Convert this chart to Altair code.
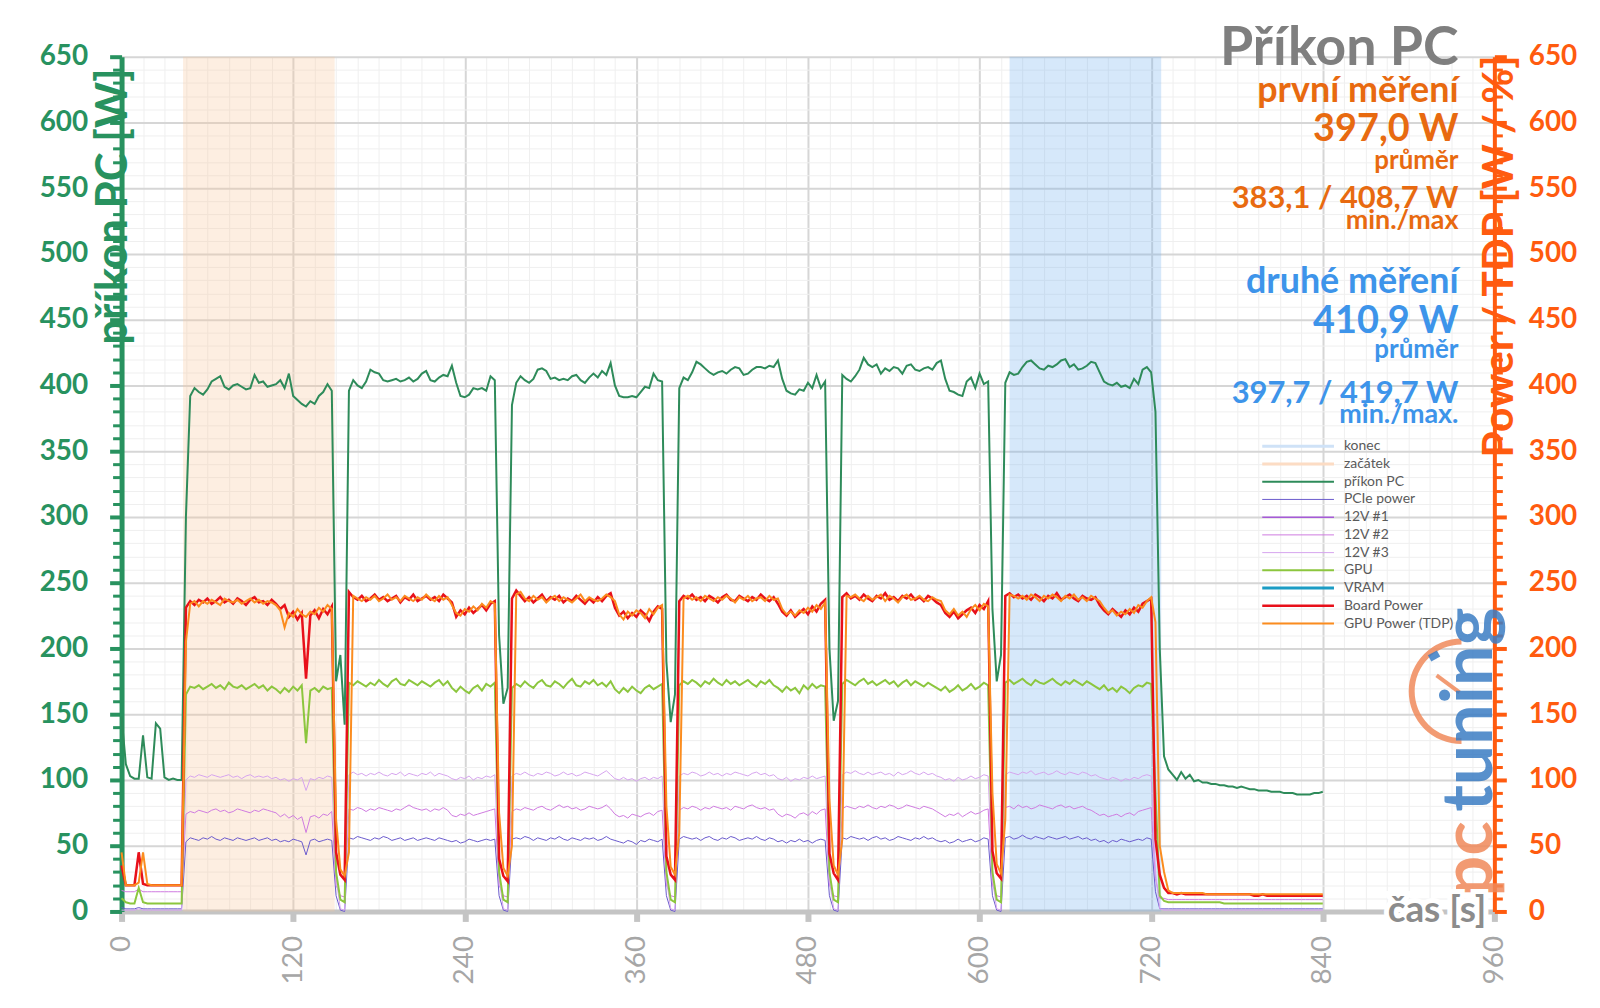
import altair as alt
import pandas as pd

# ---------------- data ----------------
T = list(range(0, 841, 3))  # sampling grid [s]

pc = [
    148, 112, 103, 101, 101, 134, 102, 101, 143, 139, 102, 100, 101, 100, 100,
    300, 392, 398, 395, 393, 397, 403, 405, 407, 399, 397, 400, 401, 399, 397, 398, 408, 402, 403, 399,
    400, 401, 404, 398, 409, 392, 389, 386, 384, 388, 386, 392, 395, 401, 396,
    175, 195, 142,
    396, 404, 400, 398, 403, 412, 410, 409, 404, 403, 404, 405, 403, 404, 406, 403, 405, 409, 411, 404,
    403, 406, 408, 407, 415, 402, 392, 391, 393, 398, 397, 398, 396, 407, 404,
    210, 158, 170,
    385, 402, 407, 404, 402, 405, 412, 413, 411, 405, 406, 404, 405, 404, 407, 408, 404, 402, 406, 409,
    406, 411, 408, 417, 400, 392, 391, 391, 392, 391, 395, 399, 398, 409, 404, 403,
    190, 144, 165,
    398, 406, 404, 410, 418, 416, 413, 410, 408, 410, 411, 409, 412, 414, 413, 408, 409, 412, 414, 414,
    413, 415, 414, 419, 405, 396, 394, 393, 397, 396, 402, 398, 408, 398, 403,
    200, 145, 160,
    408, 405, 403, 407, 412, 421, 416, 414, 416, 409, 413, 411, 414, 413, 409, 415, 416, 412, 411, 413,
    414, 412, 417, 419, 405, 396, 395, 393, 392, 403, 406, 398, 409, 401, 403,
    230, 175, 195,
    402, 410, 408, 409, 414, 418, 419, 416, 413, 412, 415, 414, 416, 419, 420, 414, 416, 412, 413, 415,
    418, 417, 410, 403, 401, 400, 402, 399, 400, 398, 405, 401, 412, 414, 410,
    380, 200, 118, 108, 104, 100, 106, 101, 104, 99,
    100, 98, 98, 97, 97, 96, 96, 95, 95, 94,
    95, 94, 93, 93, 92, 92, 92, 91, 91, 91,
    90, 90, 90, 89, 89, 89, 89, 90, 90, 91,
]

board = [
    35, 20, 20, 20, 45, 21, 20, 20, 20, 20, 20, 20, 20, 20, 20,
    231, 236, 233, 237, 235, 238, 234, 236, 239, 235, 237, 234, 238, 236, 233, 237, 239, 235, 236, 233,
    237, 234, 230, 233, 224, 228, 222, 227, 177, 225, 229, 223, 230, 226, 232,
    45, 28, 24,
    243, 239, 237, 240, 236, 238, 241, 237, 239, 236, 238, 240, 235, 239, 237, 241, 236, 238, 240, 237,
    239, 236, 241, 238, 235, 224, 229, 226, 231, 227, 230, 233, 229, 234, 236,
    40, 27, 23,
    238, 244, 240, 236, 239, 235, 238, 241, 236, 239, 237, 240, 235, 238, 236, 240, 237, 234, 238, 235,
    239, 236, 240, 242, 231, 225, 228, 223, 227, 224, 229, 226, 221, 228, 232, 230,
    42, 28, 24,
    236, 240, 238, 241, 237, 239, 236, 240, 238, 235, 239, 241, 237, 236, 240, 238, 236, 239, 237, 241,
    238, 236, 239, 234, 228, 225, 229, 224, 227, 230, 226, 232, 228, 234, 237,
    44, 29, 24,
    239, 242, 238, 240, 237, 241, 238, 236, 240, 238, 242, 237, 239, 236, 240, 238, 241, 237, 239, 236,
    240, 238, 235, 233, 227, 224, 228, 223, 226, 229, 231, 227, 233, 230, 236,
    46, 29, 25,
    240, 242, 239, 241, 238, 240, 237, 241, 239, 236, 240, 238, 242, 237, 239, 241, 238, 236, 240, 238,
    237, 239, 233, 229, 226, 230, 227, 224, 229, 226, 231, 228, 234, 236, 238,
    55, 28, 18, 14, 14, 13, 14, 13, 13, 13,
    13, 13, 13, 13, 13, 13, 13, 13, 13, 13,
    13, 13, 13, 12, 12, 13, 12, 12, 12, 12,
    12, 12, 12, 12, 12, 12, 12, 12, 12, 12,
]

tdp = [
    45, 20, 20, 20, 22, 45, 21, 20, 20, 20, 20, 20, 20, 20, 20,
    205, 234, 236, 232, 236, 234, 237, 235, 233, 238, 236, 235, 237, 234, 236, 238, 235, 237, 234, 236,
    235, 233, 229, 216, 227, 224, 230, 226, 224, 228, 226, 231, 228, 233, 230,
    70, 32, 27,
    45, 240, 238, 236, 239, 237, 240, 236, 238, 241, 237, 239, 236, 240, 238, 236, 239, 237, 241, 238,
    236, 240, 237, 239, 233, 227, 225, 230, 228, 232, 229, 234, 231, 236, 234,
    75, 33, 27,
    50, 241, 243, 238, 236, 240, 237, 239, 235, 238, 240, 236, 239, 237, 235, 238, 241, 236, 239, 237,
    236, 238, 241, 239, 236, 226, 222, 228, 225, 229, 227, 223, 230, 226, 231, 233,
    80, 34, 28,
    60, 238, 240, 237, 239, 236, 240, 238, 236, 239, 237, 240, 238, 235, 239, 237, 240, 236, 238, 239,
    236, 240, 237, 238, 230, 226, 228, 225, 229, 227, 231, 228, 233, 230, 235,
    85, 35, 28,
    55, 240, 239, 241, 238, 236, 240, 237, 239, 241, 236, 240, 238, 235, 239, 241, 237, 238, 240, 237,
    236, 239, 237, 236, 229, 226, 230, 225, 228, 224, 230, 233, 229, 234, 232,
    90, 36, 29,
    70, 241, 240, 238, 240, 237, 241, 239, 236, 240, 238, 241, 239, 236, 240, 238, 241, 237, 239, 236,
    240, 238, 236, 231, 227, 229, 225, 228, 226, 230, 227, 233, 231, 236, 239,
    220, 50, 30, 16, 14, 14, 14, 14, 14, 14,
    14, 14, 13, 13, 13, 13, 13, 13, 13, 13,
    13, 13, 13, 13, 13, 13, 13, 13, 13, 13,
    13, 13, 13, 13, 13, 13, 13, 13, 13, 13,
]

gpu = [
    10, 7, 6, 6, 18, 7, 6, 6, 6, 6, 6, 6, 6, 6, 6,
    165, 171, 170, 172, 169, 171, 173, 170, 172, 169, 174, 171, 170, 172, 169, 171, 173, 170, 172, 168,
    171, 169, 166, 170, 167, 171, 168, 172, 128, 168, 170, 167, 171, 169, 170,
    30, 9, 7,
    174, 172, 175, 173, 171, 174, 172, 176, 173, 171, 175, 177, 173, 172, 176, 174, 172, 175, 173, 171,
    174, 176, 172, 175, 170, 167, 171, 168, 166, 170, 172, 168, 173, 171, 174,
    30, 9, 7,
    170, 173, 171, 175, 172, 170, 174, 176, 172, 171, 175, 173, 170, 174, 177, 172, 171, 175, 173, 176,
    172, 174, 171, 175, 169, 166, 170, 167, 171, 168, 166, 170, 172, 169, 171, 173,
    30, 9, 7,
    172, 175, 173, 176, 174, 171, 175, 173, 177, 174, 172, 176, 173, 175, 172, 174, 176, 173, 171, 175,
    173, 176, 172, 170, 167, 171, 168, 170, 166, 172, 169, 173, 170, 172, 171,
    30, 9, 7,
    173, 176, 174, 172, 175, 177, 173, 175, 172, 174, 176, 173, 175, 171, 174, 176, 172, 175, 173, 171,
    174, 172, 170, 168, 171, 167, 169, 172, 168, 170, 173, 169, 171, 174, 172,
    30, 9, 7,
    174, 176, 173, 175, 177, 174, 172, 176, 174, 173, 175, 177, 174, 172, 175, 173, 176, 174, 172, 175,
    173, 171, 169, 172, 168, 170, 167, 171, 169, 166, 170, 172, 171, 174, 173,
    90, 12, 8, 7, 7, 7, 7, 7, 7, 7,
    7, 7, 7, 7, 7, 7, 6, 6, 6, 6,
    6, 6, 6, 6, 6, 6, 6, 6, 6, 6,
    6, 6, 6, 6, 6, 6, 6, 6, 6, 6,
]

v12_3 = [
    1, 1, 1, 1, 2, 1, 1, 1, 1, 1, 1, 1, 1, 1, 1,
    100, 103, 102, 104, 103, 102, 104, 103, 102, 103, 104, 102, 103, 101, 103, 104, 102, 103, 102, 103,
    101, 102, 100, 101, 99, 101, 100, 102, 92, 101, 100, 102, 101, 103, 102,
    25, 2, 1,
    104, 106, 104, 105, 103, 105, 104, 106, 104, 103, 105, 104, 106, 103, 105, 104, 103, 105, 104, 106,
    103, 105, 104, 103, 101, 100, 102, 101, 103, 100, 102, 101, 103, 102, 104,
    25, 2, 1,
    103, 105, 104, 106, 104, 103, 105, 104, 106, 105, 103, 104, 106, 104, 105, 103, 104, 106, 105, 104,
    103, 105, 107, 104, 101, 100, 102, 100, 101, 99, 101, 102, 100, 102, 101, 103,
    25, 2, 1,
    103, 105, 104, 106, 105, 103, 104, 106, 104, 105, 103, 105, 104, 106, 105, 104, 103, 105, 106, 104,
    105, 103, 104, 101, 100, 102, 99, 101, 100, 102, 101, 103, 101, 102, 103,
    25, 2, 1,
    104, 106, 105, 107, 105, 104, 106, 104, 105, 106, 104, 105, 103, 106, 104, 105, 107, 105, 104, 106,
    104, 105, 103, 102, 100, 101, 99, 102, 100, 101, 103, 101, 102, 104, 103,
    25, 2, 1,
    104, 106, 105, 104, 106, 105, 107, 104, 105, 106, 104, 105, 107, 105, 104, 106, 105, 104, 106, 105,
    103, 104, 102, 101, 100, 102, 101, 99, 101, 100, 102, 101, 103, 104, 103,
    30, 2, 1, 1, 1, 1, 1, 1, 1, 1,
    1, 1, 1, 1, 1, 1, 1, 1, 1, 1,
    1, 1, 1, 1, 1, 1, 1, 1, 1, 1,
    1, 1, 1, 1, 1, 1, 1, 1, 1, 1,
]

v12_2 = [
    16, 15, 15, 15, 17, 15, 15, 15, 15, 15, 15, 15, 15, 15, 15,
    74, 76, 75, 77, 76, 75, 77, 78, 76, 77, 75, 76, 78, 77, 76, 75, 77, 76, 78, 77,
    76, 75, 72, 74, 71, 73, 70, 72, 60, 72, 73, 71, 74, 73, 76,
    20, 12, 11,
    78, 77, 79, 78, 76, 78, 77, 79, 78, 77, 76, 78, 77, 79, 81, 79, 78, 77, 78, 76,
    78, 77, 79, 77, 73, 72, 74, 73, 75, 73, 74, 75, 76, 77, 78,
    20, 12, 11,
    76, 78, 77, 79, 78, 77, 79, 80, 78, 77, 79, 81, 79, 80, 78, 79, 77, 78, 80, 79,
    78, 79, 81, 78, 74, 72, 73, 71, 74, 73, 72, 74, 75, 73, 76, 77,
    20, 12, 11,
    77, 79, 78, 80, 79, 77, 79, 78, 80, 79, 78, 79, 77, 80, 79, 78, 80, 81, 79, 78,
    79, 77, 78, 74, 72, 74, 73, 71, 74, 75, 73, 76, 74, 77, 78,
    20, 12, 11,
    78, 80, 79, 78, 80, 79, 81, 79, 78, 80, 79, 81, 80, 78, 79, 81, 80, 79, 78, 80,
    79, 78, 76, 74, 72, 74, 73, 75, 72, 74, 76, 74, 75, 77, 78,
    20, 12, 11,
    79, 80, 78, 81, 79, 80, 78, 79, 81, 80, 79, 78, 80, 81, 79, 80, 78, 79, 80, 78,
    77, 75, 73, 74, 72, 73, 74, 72, 74, 75, 73, 76, 77, 78, 79,
    25, 10, 10, 9, 9, 9, 9, 9, 9, 9,
    9, 9, 9, 9, 9, 9, 9, 9, 9, 9,
    9, 9, 9, 9, 9, 9, 9, 9, 9, 9,
    9, 9, 9, 9, 9, 9, 9, 9, 9, 9,
]

pcie = [
    3, 2, 2, 2, 3, 2, 2, 2, 2, 2, 2, 2, 2, 2, 2,
    53, 56, 55, 54, 56, 55, 57, 55, 54, 56, 55, 54, 56, 55, 54, 55, 56, 54, 55, 56,
    54, 55, 53, 54, 53, 55, 54, 53, 43, 54, 55, 53, 54, 55, 54,
    12, 1, 0,
    56, 55, 57, 56, 55, 54, 56, 55, 57, 56, 54, 55, 56, 54, 55, 56, 54, 55, 56, 55,
    54, 56, 55, 54, 53, 54, 52, 53, 55, 54, 53, 54, 55, 54, 55,
    12, 1, 0,
    55, 56, 55, 57, 56, 54, 56, 55, 54, 56, 55, 57, 55, 54, 56, 55, 54, 56, 55, 56,
    54, 55, 57, 55, 54, 53, 52, 54, 53, 51, 54, 53, 55, 54, 53, 55,
    12, 1, 0,
    55, 57, 56, 55, 56, 54, 56, 57, 55, 54, 56, 55, 57, 56, 54, 55, 56, 55, 57, 55,
    54, 56, 55, 53, 54, 52, 54, 53, 55, 53, 54, 52, 54, 55, 54,
    12, 1, 0,
    56, 55, 57, 56, 55, 56, 54, 56, 57, 55, 56, 54, 55, 57, 56, 55, 54, 56, 55, 57,
    55, 56, 54, 53, 54, 52, 53, 55, 53, 54, 55, 53, 54, 56, 55,
    12, 1, 0,
    56, 57, 55, 56, 58, 56, 55, 57, 56, 55, 57, 56, 55, 56, 57, 55, 56, 57, 55, 56,
    54, 55, 53, 54, 52, 54, 53, 55, 54, 53, 54, 55, 54, 56, 55,
    15, 2, 2, 2, 2, 2, 2, 2, 2, 2,
    2, 2, 2, 2, 2, 2, 2, 2, 2, 2,
    2, 2, 2, 2, 2, 2, 2, 2, 2, 2,
    2, 2, 2, 2, 2, 2, 2, 2, 2, 2,
]

series_order = ["konec", "začátek", "příkon PC", "PCIe power", "12V #1", "12V #2",
                "12V #3", "GPU", "VRAM", "Board Power", "GPU Power (TDP)"]
series_colors = ["#cfe2f7", "#fcdcc4", "#2e8b5a", "#6a5acd", "#a65ad8", "#cf7ae0",
                 "#d6a4ee", "#8cc63e", "#1b9cc4", "#e8101a", "#fb8c1e"]
series_widths = [3, 3, 2, 1, 1.5, 1, 1, 2, 3, 2.5, 2]

shade_names = ["začátek", "konec"]
shade_start = [43, 621]
shade_end = [149, 727]
shade_fills = ["#f9c89b", "#78b4f0"]

info_title = "Příkon PC"
first_lines = ["první měření", "397,0 W", "průměr", "383,1 / 408,7 W", "min./max"]
second_lines = ["druhé měření", "410,9 W", "průměr", "397,7 / 419,7 W", "min./max."]

# ---------------- build ----------------
left_series = [("příkon PC", pc), ("PCIe power", pcie), ("12V #2", v12_2),
               ("12V #3", v12_3), ("GPU", gpu)]
right_series = [("Board Power", board), ("GPU Power (TDP)", tdp)]

rows = []
for name, vals in left_series + right_series:
    if len(vals) != len(T):
        raise ValueError(f"{name}: {len(vals)} != {len(T)}")
    rows += [{"t": t, "v": v, "s": name} for t, v in zip(T, vals)]
df = pd.DataFrame(rows)
left_names = [n for n, _ in left_series]
right_names = [n for n, _ in right_series]

shade_df = pd.DataFrame({"name": shade_names, "start": shade_start, "end": shade_end})

W, H = 1378, 858
GREEN = "#28925f"
ORANGE = "#ff5b0f"
TXT_OR = "#e86a10"
TXT_BL = "#3d94ea"
FONT = "Lato"

xscale = alt.Scale(domain=[0, 960], nice=False, zero=True)
yscale = alt.Scale(domain=[0, 650], nice=False, zero=True)

xaxis = alt.Axis(
    values=list(range(0, 961, 15)),
    labelExpr="datum.value % 120 === 0 ? datum.label : ''",
    labelAngle=270, labelFont=FONT, labelFontSize=28, labelColor="#a6a6a6",
    labelPadding=14, labelOverlap=False, labelFlush=False,
    domainColor="#c4c4c4", domainWidth=5,
    tickColor="#c4c4c4", tickWidth=6,
    tickSize={"condition": {"test": "datum.value % 120 === 0", "value": 10}, "value": 0},
    grid=True,
    gridColor={"condition": {"test": "datum.value % 120 === 0", "value": "#d6d6d6"}, "value": "#efefef"},
    gridWidth={"condition": {"test": "datum.value % 120 === 0", "value": 2}, "value": 1},
    title=None,
)

yvals = list(range(0, 651, 10))
major50 = "datum.value % 50 === 0"
left_axis = alt.Axis(
    orient="left", values=yvals,
    labelExpr=f"{major50} ? datum.label : ''",
    labelFont=FONT, labelFontSize=28, labelFontWeight="bold", labelColor=GREEN,
    labelPadding=22, labelOverlap=False, labelFlush=False,
    domainColor=GREEN, domainWidth=5, tickColor=GREEN,
    tickSize={"condition": {"test": major50, "value": 12}, "value": 9},
    tickWidth={"condition": {"test": major50, "value": 4}, "value": 3},
    grid=True,
    gridColor={"condition": {"test": major50, "value": "#d6d6d6"}, "value": "#efefef"},
    gridWidth={"condition": {"test": major50, "value": 2}, "value": 1},
    title="příkon PC [W]", titleFont=FONT, titleFontSize=44, titleFontWeight="bold",
    titleColor=GREEN, titleAngle=270, titleAlign="right", titleBaseline="middle",
    titleX=-8, titleY=11,
)
right_axis = alt.Axis(
    orient="right", values=yvals,
    labelExpr=f"{major50} ? datum.label : ''",
    labelFont=FONT, labelFontSize=28, labelFontWeight="bold", labelColor=ORANGE,
    labelPadding=22, labelOverlap=False, labelFlush=False,
    domainColor=ORANGE, domainWidth=4, tickColor=ORANGE,
    tickSize={"condition": {"test": major50, "value": 12}, "value": 8},
    tickWidth={"condition": {"test": major50, "value": 4}, "value": 3},
    grid=False,
    title="Power / TDP [W / %]", titleFont=FONT, titleFontSize=43, titleFontWeight="bold",
    titleColor=ORANGE, titleAngle=270, titleAlign="right", titleBaseline="middle",
    titleX=5, titleY=-2,
)

leg = alt.Legend(
    orient="none", legendX=1205, legendY=384, title=None,
    symbolType="M-13.4,0H1", symbolSize=100,
    labelFont=FONT, labelFontSize=14, labelColor="#5a5a5a", labelOffset=8,
    rowPadding=3.8, padding=0,
)
color_enc = alt.Color("s:N", scale=alt.Scale(domain=series_order, range=series_colors), legend=leg)
sw_enc = alt.StrokeWidth("s:N", scale=alt.Scale(type="ordinal", domain=series_order, range=series_widths), legend=leg)

shade = alt.Chart(shade_df).mark_rect(opacity=0.3).encode(
    x=alt.X("start:Q", scale=xscale, axis=xaxis),
    x2="end:Q",
    y=alt.value(0), y2=alt.value(H),
    fill=alt.Fill("name:N", scale=alt.Scale(domain=shade_names, range=shade_fills), legend=None),
)

lines_left = alt.Chart(df).transform_filter(
    alt.FieldOneOfPredicate(field="s", oneOf=left_names)
).mark_line(interpolate="linear").encode(
    x=alt.X("t:Q", scale=xscale, axis=xaxis),
    y=alt.Y("v:Q", scale=yscale, axis=left_axis),
    color=color_enc, strokeWidth=sw_enc, detail="s:N",
)

lines_right = alt.Chart(df).transform_filter(
    alt.FieldOneOfPredicate(field="s", oneOf=right_names)
).mark_line(interpolate="linear").encode(
    x=alt.X("t:Q", scale=xscale, axis=xaxis),
    y=alt.Y("v:Q", scale=yscale, axis=right_axis),
    color=color_enc, strokeWidth=sw_enc, detail="s:N",
)

one = alt.Data(values=[{"k": 0}])


def txt(s, x, y, size, color, weight="bold", align="right", angle=0, opacity=1.0,
        stroke=None, sw=0, baseline="alphabetic"):
    kw = dict(align=align, baseline=baseline, font=FONT, fontSize=size, fontWeight=weight,
              color=color, opacity=opacity)
    if angle:
        kw["angle"] = angle
    if stroke:
        kw.update(stroke=stroke, strokeWidth=sw)
    return alt.Chart(one).mark_text(**kw).encode(
        x=alt.value(x), y=alt.value(y), text=alt.value(s))


LOGO_OR = "#f0895a"
LOGO_BL = "#3b7dc4"
logo_arc = alt.Chart(one).mark_arc(
    color=LOGO_OR, opacity=0.85, theta=3.1416, theta2=6.2832, radius=53, radius2=47,
    x=1345, y=637)
logo_hand = alt.Chart(one).mark_rule(color=LOGO_OR, strokeWidth=4, opacity=0.85).encode(
    x=alt.value(1343), y=alt.value(638), x2=alt.value(1320), y2=alt.value(621))
logo_mark = alt.Chart(one).mark_rule(color=LOGO_BL, strokeWidth=7, opacity=0.85).encode(
    x=alt.value(1313), y=alt.value(604), x2=alt.value(1322), y2=alt.value(599))

TX = 1342
layers = [
    shade, lines_left, lines_right,
    logo_arc, logo_hand, logo_mark,
    txt("pc", 1376, 843, 72, LOGO_OR, align="left", angle=270, opacity=0.85),
    txt("tuning", 1376, 758, 72, LOGO_BL, align="left", angle=270, opacity=0.85),
    txt("čas [s]", 1370, 869, 37, "white", stroke="white", sw=10),
    txt("čas [s]", 1370, 869, 37, "#8c8c8c"),
    txt(info_title, TX, 8, 54, "#7f7f7f"),
    txt(first_lines[0], TX, 45, 36, TXT_OR),
    txt(first_lines[1], TX, 85, 38, TXT_OR),
    txt(first_lines[2], TX, 113, 26, TXT_OR),
    txt(first_lines[3], TX, 152, 31, TXT_OR),
    txt(first_lines[4], TX, 173, 27, TXT_OR),
    txt(second_lines[0], TX, 237, 36, TXT_BL),
    txt(second_lines[1], TX, 277, 38, TXT_BL),
    txt(second_lines[2], TX, 302, 26, TXT_BL),
    txt(second_lines[3], TX, 348, 31, TXT_BL),
    txt(second_lines[4], TX, 368, 27, TXT_BL),
]

chart = alt.layer(*layers).resolve_scale(y="independent").properties(
    width=W, height=H,
    padding={"left": 114, "top": 47, "right": 98, "bottom": 90},
    autosize=alt.AutoSizeParams(type="none"),
    background="white",
).configure_view(stroke=None)

chart.save("out.html", embed_options={"renderer": "svg", "actions": False})
